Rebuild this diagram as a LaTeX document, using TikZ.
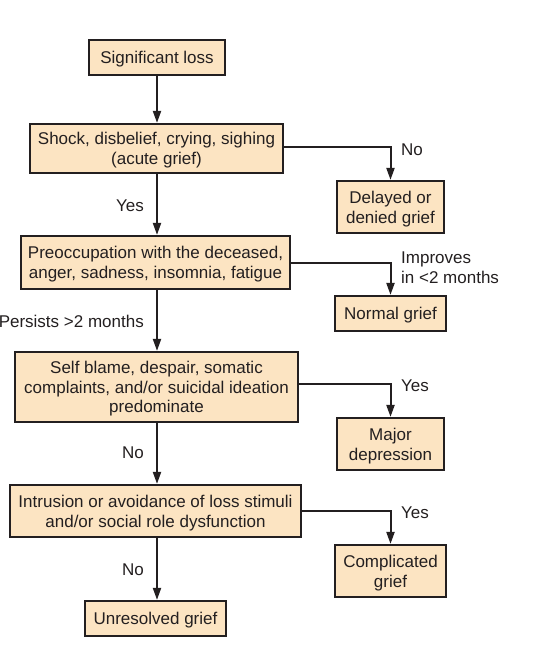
\documentclass[tikz,border=0pt]{standalone}
\usepackage{fontspec}
\setmainfont{Liberation Sans}
\usetikzlibrary{arrows.meta}
\definecolor{peach}{RGB}{252,228,194}
\definecolor{ink}{RGB}{35,31,32}
\begin{document}
\begin{tikzpicture}[x=1pt,y=-1pt,
  box/.style={draw=ink,fill=peach,line width=2.2pt,align=center,inner sep=0pt,text=ink,
    text depth=0pt,font=\fontsize{17}{19.7}\selectfont},
  lbl/.style={text=ink,inner sep=0pt,font=\fontsize{17}{19.7}\selectfont},
  conn/.style={draw=ink,line width=2pt,-{Triangle[length=12pt,width=8pt]}}]
\useasboundingbox (0,0) rectangle (538,659);
% main column
\node[box,minimum width=136pt,minimum height=35pt] (loss) at (157,57.5) {Significant loss};
\node[box,minimum width=253pt,minimum height=49pt] (shock) at (156.5,148.5) {Shock, disbelief, crying, sighing\\(acute grief)};
\node[box,minimum width=269pt,minimum height=53pt] (preoc) at (155.5,262.5) {Preoccupation with the deceased,\\anger, sadness, insomnia, fatigue};
\node[box,minimum width=283pt,minimum height=70pt] (self) at (156.5,387) {Self blame, despair, somatic\\complaints, and/or suicidal ideation\\predominate};
\node[box,minimum width=291pt,minimum height=52pt] (intr) at (155.5,511) {Intrusion or avoidance of loss stimuli\\and/or social role dysfunction};
\node[box,minimum width=141pt,minimum height=35pt] (unres) at (155.5,618.5) {Unresolved grief};
% right column
\node[box,minimum width=107pt,minimum height=52pt] (delayed) at (390.5,207) {Delayed or\\denied grief};
\node[box,minimum width=111pt,minimum height=35pt] (normal) at (390.5,313.5) {Normal grief};
\node[box,minimum width=107pt,minimum height=52pt] (major) at (390.5,444) {Major\\depression};
\node[box,minimum width=111pt,minimum height=52pt] (compl) at (390.5,571) {Complicated\\grief};
% vertical connectors
\draw[conn] (loss.south) -- (loss.south |- shock.north);
\draw[conn] (shock.south -| loss.south) -- (loss.south |- preoc.north);
\draw[conn] (preoc.south -| loss.south) -- (loss.south |- self.north);
\draw[conn] (self.south -| loss.south) -- (loss.south |- intr.north);
\draw[conn] (intr.south -| loss.south) -- (loss.south |- unres.north);
% branch connectors
\draw[conn] ([yshift=1.5pt]shock.east) -| (delayed.north);
\draw[conn] ([yshift=-0.5pt]preoc.east) -| (normal.north);
\draw[conn] ([yshift=3pt]self.east) -| (major.north);
\draw[conn] (intr.east) -| (compl.north);
% labels
\node[lbl,anchor=west] (lno1) at (401,150) {No};
\node[lbl,anchor=east] (lyes1) at (144,206) {Yes};
\node[lbl,anchor=west,align=left] (limp) at (401,268) {Improves\\in <2 months};
\node[lbl,anchor=east] (lpers) at (144,321) {Persists >2 months};
\node[lbl,anchor=west] (lyes2) at (401,386) {Yes};
\node[lbl,anchor=east] (lno2) at (144,453) {No};
\node[lbl,anchor=west] (lyes3) at (401,513) {Yes};
\node[lbl,anchor=east] (lno3) at (144,570) {No};
\end{tikzpicture}
\end{document}
